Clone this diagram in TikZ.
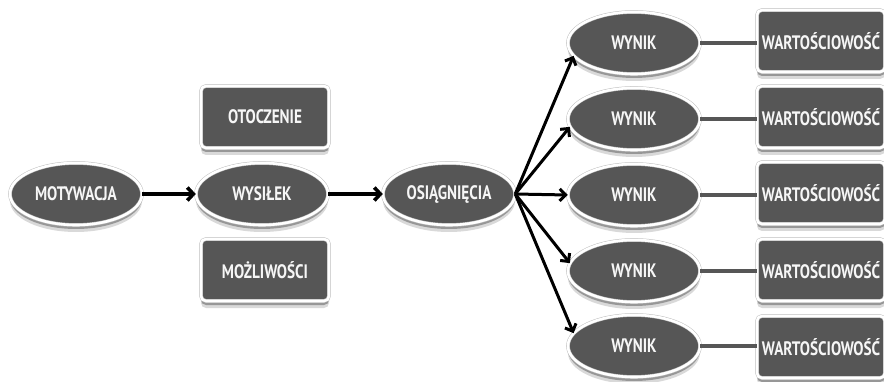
\documentclass[tikz,border=0pt]{standalone}
\usepackage{fontspec}
\setmainfont{PT Sans}[FakeStretch=0.78]
\usetikzlibrary{shapes.geometric,arrows.meta,shadows}
\definecolor{boxgray}{HTML}{565656}
\definecolor{txtwhite}{HTML}{F6F6F6}
\tikzset{
  base/.style={draw=black!25, double=white, double distance=2.6pt, line width=0.5pt,
    fill=boxgray, text=txtwhite, inner sep=0pt,
    font=\bfseries\fontsize{19.5}{19.5}\selectfont,
    drop shadow={shadow xshift=0pt, shadow yshift=-7pt, opacity=0.15, fill=black},
    drop shadow={shadow xshift=0pt, shadow yshift=-4pt, opacity=0.3, fill=black}},
  ell/.style={base, ellipse, minimum width=132pt, minimum height=62pt},
  rbox/.style={base, rectangle, rounded corners=5pt, minimum width=128pt, minimum height=62pt},
  flow/.style={line width=3.6pt, -{Straight Barb[length=6pt, width=13pt]}},
  fan/.style={line width=3pt, -{Straight Barb[length=6pt, width=12pt]}},
  link/.style={draw=boxgray, line width=3.8pt}
}
\begin{document}
\begin{tikzpicture}[x=1pt, y=-1pt]
\useasboundingbox (0,0) rectangle (884,382);
\node[ell] (mot) at (76,194) {MOTYWACJA};
\node[ell] (wys) at (262,194) {WYSIŁEK};
\node[rbox] (oto) at (265,117) {OTOCZENIE};
\node[rbox] (moz) at (265,270) {MOŻLIWOŚCI};
\node[ell] (osi) at (449,194) {OSIĄGNIĘCIA};

\node[ell] (w1) at (634,43) {WYNIK};
\node[ell] (w2) at (634,119) {WYNIK};
\node[ell] (w3) at (634,195) {WYNIK};
\node[ell] (w4) at (634,271) {WYNIK};
\node[ell] (w5) at (634,346) {WYNIK};

\node[rbox] (v1) at (821,41) {WARTOŚCIOWOŚĆ};
\node[rbox] (v2) at (821,117) {WARTOŚCIOWOŚĆ};
\node[rbox] (v3) at (821,193) {WARTOŚCIOWOŚĆ};
\node[rbox] (v4) at (821,270) {WARTOŚCIOWOŚĆ};
\node[rbox] (v5) at (821,347) {WARTOŚCIOWOŚĆ};

\draw[flow] (mot) -- (wys);
\draw[flow] (wys) -- (osi);
\coordinate (hub) at (osi.east);
\draw[fan] (hub) -- (w1.192);
\draw[fan] (hub) -- (w2.187);
\draw[fan] (hub) -- (w3.west);
\draw[fan] (hub) -- (w4.173);
\draw[fan] (hub) -- (w5.168);

\draw[link] (w1) -- (v1.west |- w1);
\draw[link] (w2) -- (v2.west |- w2);
\draw[link] (w3) -- (v3.west |- w3);
\draw[link] (w4) -- (v4.west |- w4);
\draw[link] (w5) -- (v5.west |- w5);
\end{tikzpicture}
\end{document}
